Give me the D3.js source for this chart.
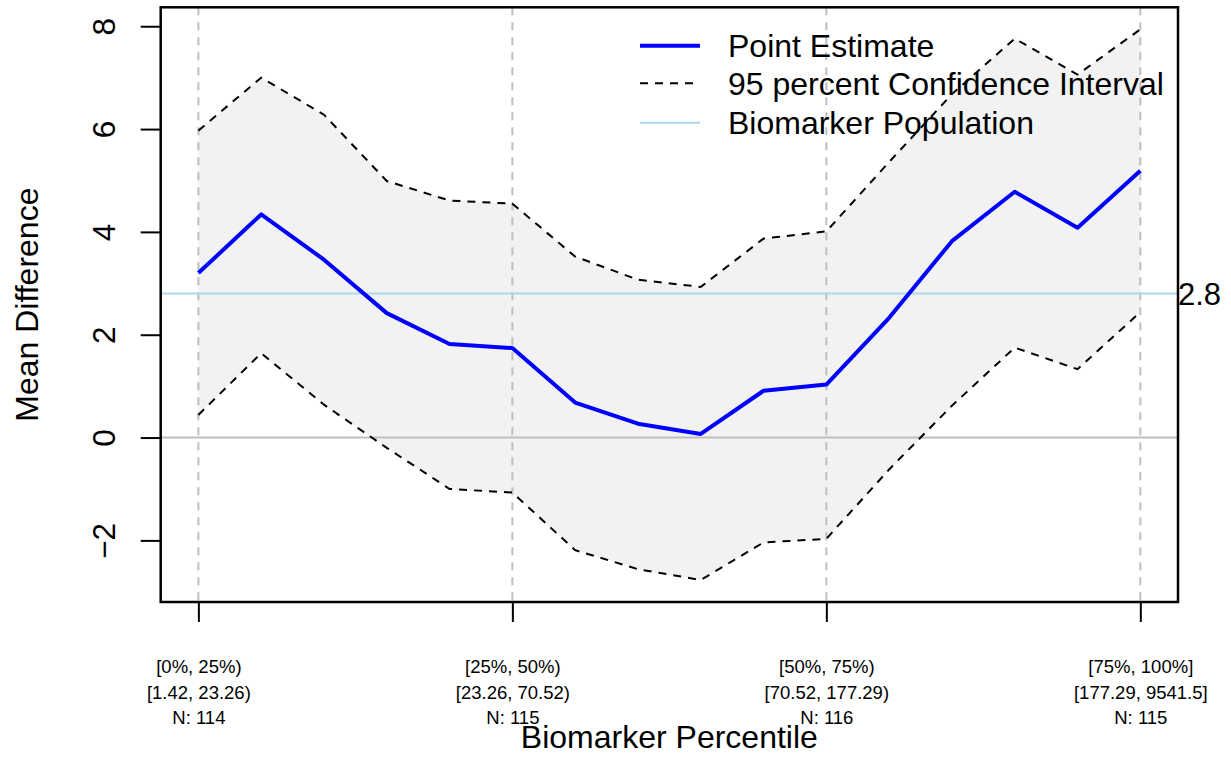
<!DOCTYPE html>
<html>
<head>
<meta charset="utf-8">
<script src="https://cdn.jsdelivr.net/npm/d3@7"></script>
<style>
  html, body { margin: 0; padding: 0; background: #fff; }
  svg { display: block; }
  text { font-family: "Liberation Sans", Arial, Helvetica, sans-serif; fill: #000; }
</style>
</head>
<body>
<svg id="chart" width="1231" height="757"></svg>
<script>
// Biomarker percentile subgroups (16 sliding windows)
const windowIndex = d3.range(1, 17);
const pointEstimate = [3.20, 4.34, 3.46, 2.42, 1.82, 1.74, 0.68, 0.27, 0.07, 0.91, 1.03, 2.33, 3.82, 4.78, 4.08, 5.19];
const ciUpper = [5.97, 7.00, 6.28, 4.99, 4.61, 4.55, 3.52, 3.07, 2.93, 3.87, 4.01, 5.36, 6.68, 7.76, 7.06, 7.94];
const ciLower = [0.44, 1.64, 0.64, -0.20, -1.00, -1.07, -2.19, -2.56, -2.77, -2.04, -1.97, -0.62, 0.62, 1.75, 1.33, 2.44];
const populationEstimate = 2.8;

// Quartile labels under the x axis
const quartileTicks = [1, 6, 11, 16];
const quartileRanges = ["[0%, 25%)", "[25%, 50%)", "[50%, 75%)", "[75%, 100%]"];
const quartileValues = ["[1.42, 23.26)", "[23.26, 70.52)", "[70.52, 177.29)", "[177.29, 9541.5]"];
const quartileN = ["N: 114", "N: 115", "N: 116", "N: 115"];
const yTicks = [-2, 0, 2, 4, 6, 8];

const legendItems = [
  { label: "Point Estimate", color: "#0000FF", width: 4, dash: null },
  { label: "95 percent Confidence Interval", color: "#000", width: 2, dash: "8,7" },
  { label: "Biomarker Population", color: "#ADD8E6", width: 2, dash: null }
];

const svg = d3.select("#chart");
const plot = { left: 160.7, right: 1178, top: 7.3, bottom: 602 };

// R-style 4% padding around the data range
function padded(lo, hi) { const r = hi - lo; return [lo - 0.04 * r, hi + 0.04 * r]; }
const xDom = padded(1, 16);
const yDom = padded(d3.min(ciLower), d3.max(ciUpper));

const x = d3.scaleLinear().domain(xDom).range([plot.left, plot.right]);
const y = d3.scaleLinear().domain(yDom).range([plot.bottom, plot.top]);

const rows = windowIndex.map((d, i) => ({ i: d, est: pointEstimate[i], lo: ciLower[i], hi: ciUpper[i] }));

// Confidence band
svg.append("path")
  .datum(rows)
  .attr("d", d3.area().x(d => x(d.i)).y0(d => y(d.lo)).y1(d => y(d.hi)))
  .attr("fill", "#F2F2F2")
  .attr("stroke", "none");

// Quartile boundary guides
svg.selectAll("line.guide")
  .data(quartileTicks)
  .join("line")
  .attr("class", "guide")
  .attr("x1", d => x(d)).attr("x2", d => x(d))
  .attr("y1", plot.top).attr("y2", plot.bottom)
  .attr("stroke", "#BEBEBE").attr("stroke-width", 2).attr("stroke-dasharray", "8,7");

// Zero reference
svg.append("line")
  .attr("x1", plot.left).attr("x2", plot.right)
  .attr("y1", y(0)).attr("y2", y(0))
  .attr("stroke", "#BEBEBE").attr("stroke-width", 2);

// Overall population estimate
svg.append("line")
  .attr("x1", plot.left).attr("x2", plot.right)
  .attr("y1", y(populationEstimate)).attr("y2", y(populationEstimate))
  .attr("stroke", "#ADD8E6").attr("stroke-width", 2);

svg.append("text")
  .attr("x", plot.right).attr("y", y(populationEstimate) + 11.5)
  .attr("font-size", 31)
  .text(populationEstimate.toFixed(1));

// Confidence limits
const lineFor = key => d3.line().x(d => x(d.i)).y(d => y(d[key]));
["hi", "lo"].forEach(k => {
  svg.append("path")
    .datum(rows)
    .attr("d", lineFor(k))
    .attr("fill", "none")
    .attr("stroke", "#000").attr("stroke-width", 2).attr("stroke-dasharray", "8,7");
});

// Point estimate
svg.append("path")
  .datum(rows)
  .attr("d", lineFor("est"))
  .attr("fill", "none")
  .attr("stroke", "#0000FF").attr("stroke-width", 4).attr("stroke-linejoin", "round");

// Plot frame
svg.append("rect")
  .attr("x", plot.left).attr("y", plot.top)
  .attr("width", plot.right - plot.left).attr("height", plot.bottom - plot.top)
  .attr("fill", "none").attr("stroke", "#000").attr("stroke-width", 2.5);

// Y axis
const yAxis = svg.append("g")
  .attr("transform", `translate(${plot.left},0)`)
  .call(d3.axisLeft(y).tickValues(yTicks).tickSize(20).tickFormat(d => d < 0 ? "\u2212" + Math.abs(d) : String(d)));
yAxis.select(".domain").remove();
yAxis.selectAll(".tick line").attr("stroke", "#000").attr("stroke-width", 2);
yAxis.selectAll(".tick text")
  .attr("x", 0).attr("y", -45.7).attr("dy", null)
  .attr("transform", "rotate(-90)")
  .attr("text-anchor", "middle")
  .attr("font-size", 31.5)
  .style("font-family", "'Liberation Sans', Arial, sans-serif")
  .attr("fill", "#000");

// X axis
const xAxis = svg.append("g")
  .attr("transform", `translate(0,${plot.bottom})`)
  .call(d3.axisBottom(x).tickValues(quartileTicks).tickSize(20).tickFormat(""));
xAxis.select(".domain").remove();
xAxis.selectAll(".tick line").attr("stroke", "#000").attr("stroke-width", 2);
xAxis.selectAll(".tick").each(function (d, i) {
  const t = d3.select(this).append("text")
    .attr("text-anchor", "middle")
    .attr("font-size", 18.5)
    .style("font-family", "'Liberation Sans', Arial, sans-serif")
    .attr("fill", "#000");
  [quartileRanges[i], quartileValues[i], quartileN[i]].forEach((s, k) => {
    t.append("tspan").attr("x", 0).attr("y", 71 + k * 25.7).text(s);
  });
});

// Axis titles
svg.append("text")
  .attr("x", (plot.left + plot.right) / 2).attr("y", 748)
  .attr("text-anchor", "middle").attr("font-size", 32)
  .text("Biomarker Percentile");

svg.append("text")
  .attr("transform", `translate(37.5,${(plot.top + plot.bottom) / 2}) rotate(-90)`)
  .attr("text-anchor", "middle").attr("font-size", 32)
  .text("Mean Difference");

// Legend
const legend = svg.append("g").attr("transform", "translate(640,0)");
const legendY = [45.7, 83.3, 122.7];
legendItems.forEach((item, k) => {
  legend.append("line")
    .attr("x1", 0).attr("x2", 60)
    .attr("y1", legendY[k]).attr("y2", legendY[k])
    .attr("stroke", item.color).attr("stroke-width", item.width)
    .attr("stroke-dasharray", item.dash);
  legend.append("text")
    .attr("x", 88).attr("y", legendY[k] + 11.5)
    .attr("font-size", 32)
    .text(item.label);
});
</script>
</body>
</html>
